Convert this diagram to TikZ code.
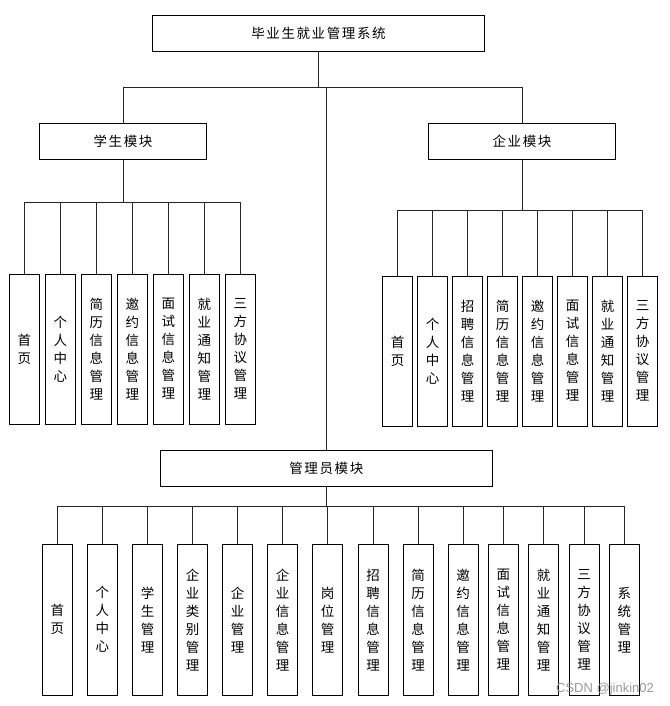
\documentclass[tikz,border=0pt]{standalone}
\usepackage{fontspec}
\usetikzlibrary{positioning}
\newfontfamily\cjkfont[LetterSpace=12]{Noto Sans CJK SC}
\newfontfamily\wmfont{Liberation Sans}
\tikzset{
	% module boxes
	modbox/.style={
		draw,
		line width=0.9pt,
		minimum width=#1,
		minimum height=36pt,
		inner sep=0pt,
		font=\cjkfont\fontsize{13.5}{16}\selectfont
	}, %
	% leaf boxes, text top to bottom
	leaf/.style={
		draw,
		line width=0.9pt,
		minimum width=30pt,
		minimum height=150pt,
		inner sep=0pt,
		align=center,
		font=\cjkfont\fontsize{13.5}{18}\selectfont
	}, %
	link/.style={draw=black!85, line width=0.8pt},
	wmark/.style={text=black!40, font=\wmfont\fontsize{13}{14}\selectfont}
}

\begin{document}
\begin{tikzpicture}[x=1pt, y=-1pt]
	\useasboundingbox (0,0) rectangle (669,706);

	%% top and modules
	\node [modbox=331.6pt] (sys) at (318.5, 33.3) {毕业生就业管理系统};
	\node [modbox=167.4pt] (stu) at (123, 141.7) {学生模块};
	\node [modbox=186.6pt] (ent) at (522, 141.7) {企业模块};
	\node [modbox=332.7pt, minimum height=35.3pt] (adm) at (326.3, 468.3) {管理员模块};

	\coordinate (tbus) at (0, 87.3);
	\coordinate (sbus) at (0, 202);
	\coordinate (ebus) at (0, 210);
	\coordinate (abus) at (0, 506.7);

	%% student leaves
	\foreach \lbl [count=\i] in {首\\页, 个\\人\\中\\心, 简\\历\\信\\息\\管\\理, 邀\\约\\信\\息\\管\\理,
		面\\试\\信\\息\\管\\理, 就\\业\\通\\知\\管\\理, 三\\方\\协\\议\\管\\理} {
		\node [leaf] (s\i) at ({24.3+36*(\i-1)}, 349) {\lbl};
		\draw [link] (s\i.north) |- (stu.south |- sbus);
	}

	%% enterprise leaves
	\foreach \lbl [count=\i] in {首\\页, 个\\人\\中\\心, 招\\聘\\信\\息\\管\\理, 简\\历\\信\\息\\管\\理,
		邀\\约\\信\\息\\管\\理, 面\\试\\信\\息\\管\\理, 就\\业\\通\\知\\管\\理, 三\\方\\协\\议\\管\\理} {
		\node [leaf] (e\i) at ({397.7+35*(\i-1)}, 351) {\lbl};
		\draw [link] (e\i.north) |- (ent.south |- ebus);
	}

	%% admin leaves
	\foreach \xx/\lbl [count=\i] in {57.3/首\\页, 102.3/个\\人\\中\\心, 147.7/学\\生\\管\\理,
		192.7/企\\业\\类\\别\\管\\理, 237.7/企\\业\\管\\理, 282.7/企\\业\\信\\息\\管\\理,
		327.5/岗\\位\\管\\理, 373/招\\聘\\信\\息\\管\\理, 418/简\\历\\信\\息\\管\\理,
		463/邀\\约\\信\\息\\管\\理, 503.3/面\\试\\信\\息\\管\\理, 543.7/就\\业\\通\\知\\管\\理,
		584/三\\方\\协\\议\\管\\理, 624.3/系\\统\\管\\理} {
		\node [leaf, minimum height=150.7pt] (a\i) at (\xx, 619.7) {\lbl};
		\draw [link] (a\i.north) |- (adm.south |- abus);
	}

	%% connectors
	\draw [link] (sys.south) -- (sys.south |- tbus);
	\draw [link] (stu.north) |- (ent.north |- tbus) -- (ent.north);
	\draw [link] (adm.north) -- (adm.north |- tbus);
	\draw [link] (stu.south) -- (stu.south |- sbus);
	\draw [link] (ent.south) -- (ent.south |- ebus);
	\draw [link] (adm.south) -- (adm.south |- abus);

	\node [wmark] (wm) at (605, 689) {CSDN @jinkin02};
\end{tikzpicture}
\end{document}
